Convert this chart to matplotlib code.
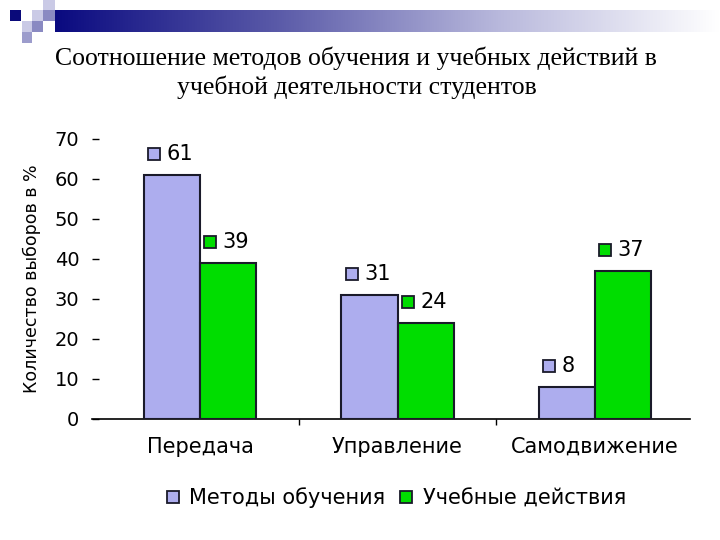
import numpy as np
import matplotlib
matplotlib.use('Agg')
import matplotlib.pyplot as plt
from matplotlib.patches import Rectangle
from matplotlib.colors import LinearSegmentedColormap
from matplotlib.lines import Line2D

categories = ['Передача', 'Управление', 'Самодвижение']
methods = [61, 31, 8]
actions = [39, 24, 37]
series_names = ['Методы обучения', 'Учебные действия']
title = 'Соотношение методов обучения и учебных действий в\nучебной деятельности студентов'
ylabel = 'Количество выборов в %'

purple = '#ADADEE'
green = '#00DD00'
edge = '#1A1A2A'

fig = plt.figure(figsize=(7.2, 5.4), dpi=100)

# decoration at the top (pixel coordinates)
deco = fig.add_axes([0, 0, 1, 1], zorder=-1)
deco.axis('off')
cmap = LinearSegmentedColormap.from_list('band', ['#0A0A80', '#5A5AA8', '#B8B8DC', '#FFFFFF'])
deco.imshow(np.linspace(0, 1, 256).reshape(1, -1), cmap=cmap, aspect='auto',
            extent=(55, 720, 32, 10))
for (x, y, w, h, c) in [(10, 10, 11, 11, '#0A0A7A'), (43, 0, 12, 10, '#CACAE6'),
                        (32, 10, 11, 11, '#CACAE6'), (43, 10, 12, 11, '#8A8AC2'),
                        (22, 21, 10, 11, '#CACAE6'), (32, 21, 11, 11, '#8A8AC2'),
                        (22, 32, 10, 11, '#9C9CCC')]:
    deco.add_patch(Rectangle((x, y), w, h, color=c, lw=0))
deco.set_xlim(0, 720)
deco.set_ylim(540, 0)

fig.text(0.495, 1 - 73 / 540, title, ha='center', va='center', fontsize=18.5,
         family='Liberation Serif', linespacing=1.32)

ax = fig.add_axes([92 / 720, 1 - 419 / 540, 598 / 720, 280 / 540])
x = np.arange(len(categories))
w = 0.285
ax.bar(x - w, methods, w, align='edge', color=purple, edgecolor=edge, lw=1.5, zorder=3)
ax.bar(x, actions, w, align='edge', color=green, edgecolor=edge, lw=1.5, zorder=3)

for xs, vals, col in [(x - w, methods, purple), (x, actions, green)]:
    for xi, v in zip(xs, vals):
        ax.plot(xi + 0.053, v + 5.3, 's', ms=9, mfc=col, mec=edge, mew=1.3, clip_on=False)
        ax.text(xi + 0.115, v + 5.3, str(v), ha='left', va='center', fontsize=15)

ax.set_xlim(-0.547, 2.481)
ax.set_ylim(0, 70)
ax.set_yticks(range(0, 71, 10))
ax.tick_params(axis='y', direction='in', length=5, width=1, pad=9, labelsize=14)
ax.set_xticks(x)
ax.set_xticklabels(categories, fontsize=15)
ax.tick_params(axis='x', length=0, pad=13)
ax.set_xticks([0.5, 1.5], minor=True)
ax.tick_params(axis='x', which='minor', direction='out', length=4, width=1)
for s in ['top', 'right', 'left']:
    ax.spines[s].set_visible(False)
ax.spines['bottom'].set_linewidth(1.2)
ax.set_ylabel(ylabel, fontsize=12.5, labelpad=10)

handles = [Line2D([], [], ls='none', marker='s', ms=9, mfc=c, mec=edge, mew=1.3)
           for c in (purple, green)]
fig.legend(handles, series_names, loc='center', bbox_to_anchor=(0.549, 0.078),
           ncol=2, frameon=False, fontsize=15, handlelength=0.8, handletextpad=0.4,
           columnspacing=0.6)

fig.savefig('out.png', dpi=100)
